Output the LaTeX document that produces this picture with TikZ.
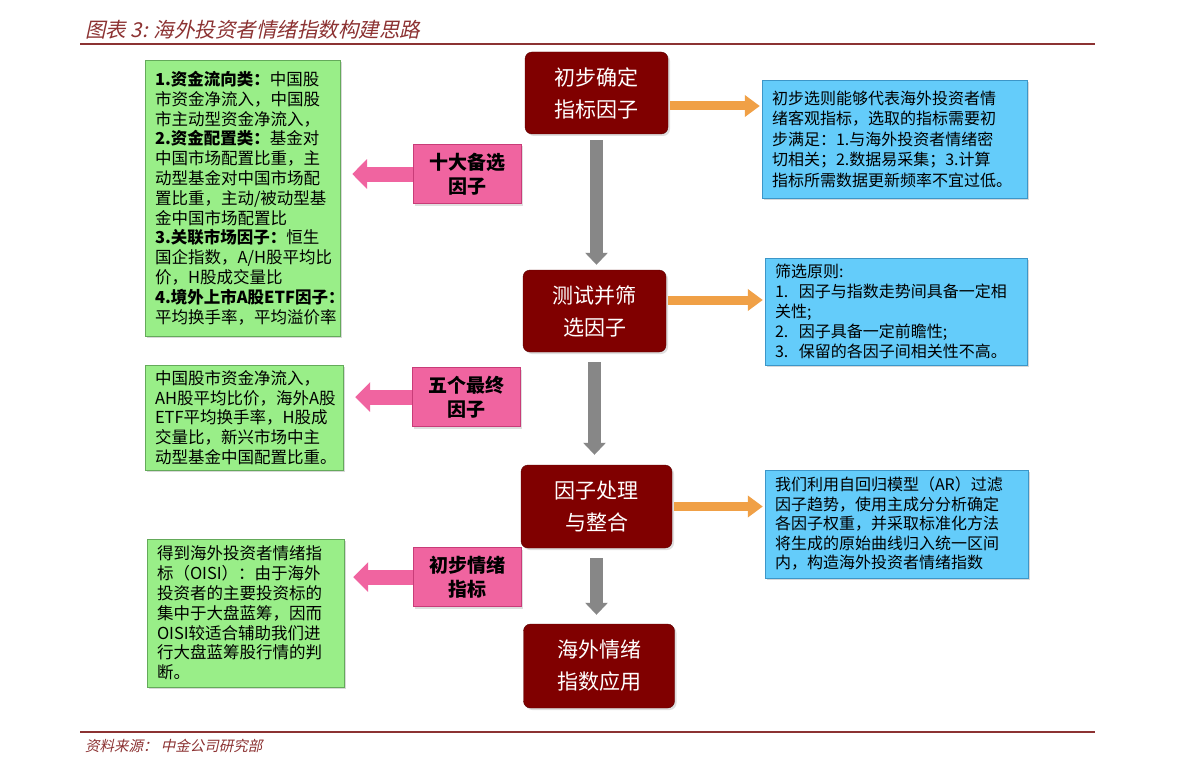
\documentclass[tikz,border=0pt]{standalone}
\usepackage{fontspec}
\setmainfont{Noto Sans CJK SC}
\newfontfamily\titlefont[FakeSlant=0.22]{Noto Sans CJK SC}
\usepackage{xcolor}
\usepackage{tikz}
\usetikzlibrary{arrows.meta, shadows}
\definecolor{stepred}{RGB}{128,0,0}
\definecolor{stepedge}{RGB}{90,0,0}
\definecolor{factgreen}{RGB}{153,238,136}
\definecolor{factedge}{RGB}{100,170,90}
\definecolor{noteblue}{RGB}{100,204,250}
\definecolor{noteedge}{RGB}{60,150,200}
\definecolor{tagpink}{RGB}{240,100,160}
\definecolor{tagedge}{RGB}{200,60,120}
\definecolor{flowgray}{RGB}{135,135,135}
\definecolor{flowor}{RGB}{240,160,70}
\definecolor{rulered}{RGB}{140,50,50}
\tikzset{
  stepbox/.style={rectangle, rounded corners=7pt, draw=stepedge, fill=stepred,
                  text=white, align=center, minimum width=143pt, minimum height=82pt,
                  font=\fontsize{21}{32}\selectfont,
                  drop shadow={opacity=0.25, shadow xshift=2pt, shadow yshift=-2pt}},
  notebox/.style={rectangle, draw=noteedge, fill=noteblue, align=left,
                  inner xsep=10pt, font=\fontsize{16}{20.5}\selectfont,
                  drop shadow={opacity=0.3, shadow xshift=2pt, shadow yshift=-2pt}},
  factorbox/.style={rectangle, draw=factedge, fill=factgreen, align=left,
                  inner xsep=10pt, text width=175pt, minimum width=195pt,
                  font=\fontsize{16.5}{19.8}\selectfont,
                  drop shadow={opacity=0.3, shadow xshift=2pt, shadow yshift=-2pt}},
  tagbox/.style={rectangle, draw=tagedge, fill=tagpink, align=center,
                  minimum width=108pt, minimum height=59pt,
                  font=\fontsize{19}{24}\selectfont\bfseries,
                  drop shadow={opacity=0.25, shadow xshift=2pt, shadow yshift=-2pt}},
  downflow/.style={draw=flowgray, line width=13pt, -{Triangle[length=12pt, width=22pt]}},
  rightflow/.style={draw=flowor, line width=9pt, -{Triangle[length=15pt, width=21pt]}},
  leftflow/.style={draw=tagpink, line width=15pt, -{Triangle[length=15pt, width=29pt]}},
  rulebar/.style={draw=rulered, line width=1.2pt},
}
\begin{document}
\begin{tikzpicture}[x=1pt, y=-1pt]
  \useasboundingbox[fill=white] (0,0) rectangle (1191,773);

  %% ---- TITLE AND SOURCE ----
  \node[anchor=base west, inner sep=0pt, text=rulered, font=\fontsize{20.5}{24}\selectfont\titlefont] (title) at (85,38) {图表 3: 海外投资者情绪指数构建思路};
  \draw[rulebar] (80,44) -- (1095,44);
  \draw[rulebar] (80,732) -- (1095,732);
  \node[anchor=base west, inner sep=0pt, text=rulered, font=\fontsize{14.5}{17}\selectfont\titlefont] (source) at (85,751) {资料来源： 中金公司研究部};

  %% ---- MAIN CHAIN ----
  \node[stepbox] (init) at (596.5,93) {初步确定\\指标因子};
  \node[stepbox] (test) at (594.5,311) {测试并筛\\选因子};
  \node[stepbox, minimum width=151pt, minimum height=83pt] (proc) at (596.5,506.5) {因子处理\\与整合};
  \node[stepbox, minimum width=151pt, minimum height=84pt] (use) at (599,666) {海外情绪\\指数应用};

  \draw[downflow, shorten <=6pt, shorten >=5pt] (init) -- (init |- test.north);
  \draw[downflow, shorten <=10pt, shorten >=10pt] (test.south) -- (test.south |- proc.north);
  \draw[downflow, shorten <=10pt, shorten >=9pt] (proc.south) -- (proc.south |- use.north);

  %% ---- NOTES ON THE RIGHT ----
  \node[notebox, text width=245pt, minimum height=118pt] (initnote) at (894.5,139) {初步选则能够代表海外投资者情\\绪客观指标，选取的指标需要初\\步满足：1.与海外投资者情绪密\\切相关；2.数据易采集；3.计算\\指标所需数据更新频率不宜过低。};
  \node[notebox, text width=242pt, minimum height=107pt, font=\fontsize{16}{20}\selectfont] (testnote) at (896,311.5) {筛选原则:\\1.\ \ 因子与指数走势间具备一定相\\关性;\\2.\ \ 因子具备一定前瞻性;\\3.\ \ 保留的各因子间相关性不高。};
  \node[notebox, text width=243pt, minimum height=108pt, font=\fontsize{16}{19.5}\selectfont] (procnote) at (896.5,524) {我们利用自回归模型（AR）过滤\\因子趋势，使用主成分分析确定\\各因子权重，并采取标准化方法\\将生成的原始曲线归入统一区间\\内，构造海外投资者情绪指数};

  \draw[rightflow, shorten <=2pt, shorten >=2pt] ([yshift=-13pt]init.east) -- ([yshift=-13pt]init.east -| initnote.west);
  \draw[rightflow, shorten <=2pt, shorten >=2pt] ([yshift=11pt]test.east) -- ([yshift=11pt]test.east -| testnote.west);
  \draw[rightflow, shorten <=2pt, shorten >=2pt] (proc.east) -- (proc.east -| procnote.west);

  %% ---- TAGS AND FACTOR LISTS ON THE LEFT ----
  \node[tagbox] (tenfac) at (467,174) {十大备选\\因子};
  \node[tagbox] (fivefac) at (466,397) {五个最终\\因子};
  \node[tagbox] (senti) at (467,577) {初步情绪\\指标};

  \node[factorbox, minimum height=276pt] (tenlist) at (242.5,198) {\textbf{1.资金流向类：}中国股\\市资金净流入，中国股\\市主动型资金净流入，\\\textbf{2.资金配置类：}基金对\\中国市场配置比重，主\\动型基金对中国市场配\\置比重，主动/被动型基\\金中国市场配置比\\\textbf{3.关联市场因子：}恒生\\国企指数，A/H股平均比\\价，H股成交量比\\\textbf{4.境外上市A股ETF因子：}\\平均换手率，平均溢价率};
  \node[factorbox, minimum width=198pt, text width=178pt, minimum height=105pt] (fivelist) at (244,417.5) {中国股市资金净流入，\\AH股平均比价，海外A股\\ETF平均换手率，H股成\\交量比，新兴市场中主\\动型基金中国配置比重。};
  \node[factorbox, minimum width=197pt, text width=177pt, minimum height=148pt] (sentilist) at (245.5,613) {得到海外投资者情绪指\\标（OISI）：由于海外\\投资者的主要投资标的\\集中于大盘蓝筹，因而\\OISI较适合辅助我们进\\行大盘蓝筹股行情的判\\断。};

  \draw[leftflow, shorten >=12pt] (tenfac.west) -- (tenfac.west -| tenlist.east);
  \draw[leftflow, shorten >=12pt] (fivefac.west) -- (fivefac.west -| fivelist.east);
  \draw[leftflow, shorten >=9pt] (senti.west) -- (senti.west -| sentilist.east);

\end{tikzpicture}
\end{document}
